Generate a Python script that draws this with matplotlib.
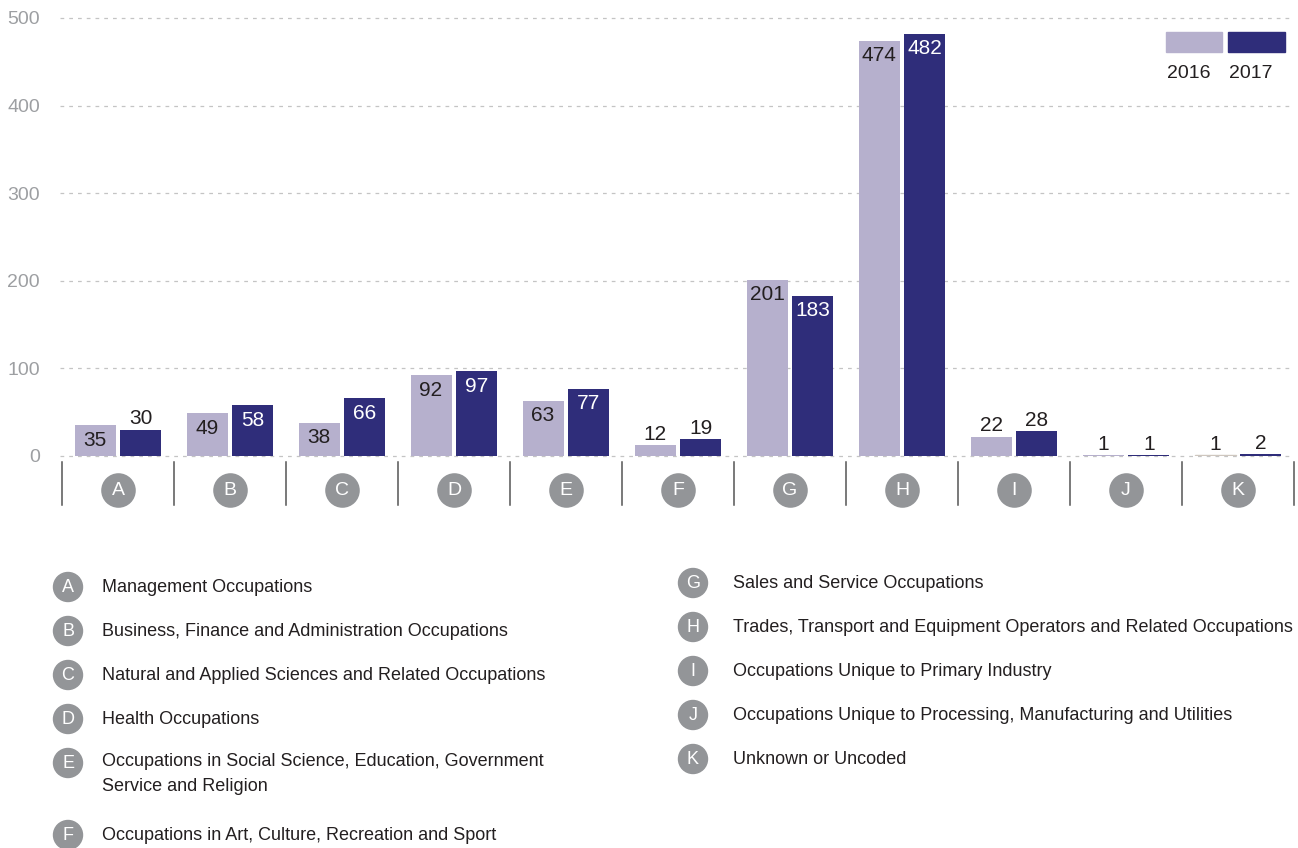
import matplotlib.pyplot as plt
import numpy as np
from matplotlib.patches import Circle, Rectangle

plt.rcParams['font.family'] = ['Liberation Sans Narrow', 'Liberation Sans', 'DejaVu Sans']

codes = ['A', 'B', 'C', 'D', 'E', 'F', 'G', 'H', 'I', 'J', 'K']
v2016 = [35, 49, 38, 92, 63, 12, 201, 474, 22, 1, 1]
v2017 = [30, 58, 66, 97, 77, 19, 183, 482, 28, 1, 2]
names_left = ['Management Occupations',
              'Business, Finance and Administration Occupations',
              'Natural and Applied Sciences and Related Occupations',
              'Health Occupations',
              'Occupations in Social Science, Education, Government\nService and Religion',
              'Occupations in Art, Culture, Recreation and Sport']
names_right = ['Sales and Service Occupations',
               'Trades, Transport and Equipment Operators and Related Occupations',
               'Occupations Unique to Primary Industry',
               'Occupations Unique to Processing, Manufacturing and Utilities',
               'Unknown or Uncoded']

light = '#b6b0cd'
dark = '#2f2d7a'
grey = '#939598'
ink = '#231f20'

W, H = 1298, 848
fig = plt.figure(figsize=(W / 100, H / 100), dpi=100)

# pixel-space overlay for the code legend below the chart
ov = fig.add_axes([0, 0, 1, 1])
ov.set_xlim(0, W)
ov.set_ylim(H, 0)
ov.axis('off')

ax = fig.add_axes([62 / W, 392 / H, 1232 / W, 438 / H])
ax.patch.set_alpha(0)
x = np.arange(len(codes))
bw = 0.366
off = 0.205
b1 = ax.bar(x - off, v2016, bw, color=light)
b2 = ax.bar(x + off, v2017, bw, color=dark)
b1[-1].set_color('#cfc7bf')

ax.set_xlim(-0.5, len(codes) - 0.5)
ax.set_ylim(0, 500)
ax.set_yticks(range(0, 501, 100))
ax.tick_params(axis='y', length=0, pad=16, labelsize=14, labelcolor='#9d9fa2')
ax.set_xticks([])
for s in ax.spines.values():
    s.set_visible(False)
for yv in range(0, 501, 100):
    ax.plot([-0.52, 10.47], [yv, yv], ls=(0, (3, 4)), lw=0.9, color='#c4c4c4',
            zorder=0, clip_on=False)

# value labels: tall bars inside, short ones on top
for i in range(len(codes)):
    for val, xc, inside_min, in_col in [(v2016[i], x[i] - off, 30, ink),
                                        (v2017[i], x[i] + off, 50, 'white')]:
        if val >= inside_min:
            ax.annotate(str(val), (xc, val), xytext=(0, -4), textcoords='offset points',
                        ha='center', va='top', fontsize=15, color=in_col)
        else:
            ax.annotate(str(val), (xc, val), xytext=(0, 1), textcoords='offset points',
                        ha='center', va='bottom', fontsize=15, color=ink)

# separators and code circles under the axis
for k in range(len(codes) + 1):
    ax.plot([k - 0.5, k - 0.5], [-7, -56], color='#555555', lw=1.1, clip_on=False)
ax.scatter(x, [-39] * len(codes), s=620, color=grey, clip_on=False, lw=0)
for i, c in enumerate(codes):
    ax.text(x[i], -39, c, ha='center', va='center', color='white', fontsize=14)

# year legend
ov.add_patch(Rectangle((1166, 32), 56, 20, color=light))
ov.add_patch(Rectangle((1228, 32), 57, 20, color=dark))
ov.text(1189, 74, '2016', ha='center', va='center', fontsize=14, color=ink)
ov.text(1251, 74, '2017', ha='center', va='center', fontsize=14, color=ink)


def legend_row(cx, tx, yy, code, name):
    ov.add_patch(Circle((cx, yy), 14.5, color=grey))
    ov.text(cx, yy, code, ha='center', va='center', color='white', fontsize=13)
    if '\n' in name:
        ov.text(tx, yy - 10, name, ha='left', va='top', fontsize=13, color=ink,
                linespacing=1.65)
    else:
        ov.text(tx, yy + 1, name, ha='left', va='center', fontsize=13, color=ink)


# code legend
left_y = [587, 631, 675, 719, 763, 835]
right_y = [583, 627, 671, 715, 759]
for c, nm, yy in zip(codes[:6], names_left, left_y):
    legend_row(68, 102, yy, c, nm)
for c, nm, yy in zip(codes[6:], names_right, right_y):
    legend_row(693, 733, yy, c, nm)

fig.savefig('out.png', dpi=100)
